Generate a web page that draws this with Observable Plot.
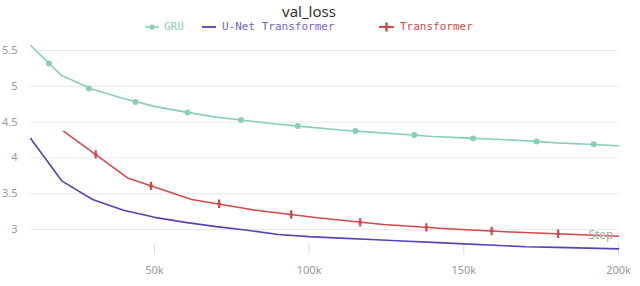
<!DOCTYPE html>
<html>
<head>
<meta charset="utf-8">
<script src="https://cdn.jsdelivr.net/npm/d3@7"></script>
<script src="https://cdn.jsdelivr.net/npm/@observablehq/plot@0.6"></script>
<style>
  html, body { margin: 0; padding: 0; background: #fff; }
  #wrap { position: relative; width: 640px; height: 286px; overflow: hidden; }
  #title { position: absolute; left: 209px; width: 200px; top: 2px; text-align: center;
           font-family: "Noto Sans", sans-serif; font-size: 15px; color: #333; line-height: 18px; }
  .leg { position: absolute; top: 20px; height: 14px; font-family: "DejaVu Sans Mono", monospace;
         font-size: 11px; line-height: 14px; white-space: pre; }
  .sw { position: absolute; top: 20px; }
  #chart { position: absolute; left: 0; top: 0; }
</style>
</head>
<body>
<div id="wrap">
  <div id="chart"></div>
  <div id="title">val_loss</div>
  <svg class="sw" style="left:145px" width="15" height="14"><line x1="0" y1="7" x2="14" y2="7" stroke="#87cfb6" stroke-width="1.6"/><circle cx="7" cy="7" r="2.6" fill="#87cfb6"/></svg>
  <div class="leg" style="left:164px;color:#87cfb6">GRU</div>
  <svg class="sw" style="left:202px" width="15" height="14"><line x1="0" y1="7" x2="14" y2="7" stroke="#5d3fb6" stroke-width="1.8"/></svg>
  <div class="leg" style="left:222px;color:#7a62c6">U-Net Transformer</div>
  <svg class="sw" style="left:379px" width="16" height="14"><line x1="0" y1="7" x2="15" y2="7" stroke="#d24a4a" stroke-width="2"/><line x1="7.5" y1="2.5" x2="7.5" y2="11.5" stroke="#d24a4a" stroke-width="2.4"/></svg>
  <div class="leg" style="left:400px;color:#d24a4a">Transformer</div>
</div>
<script>
// ---- data ----
const steps = [10000, 20000, 30000, 40000, 50000, 60000, 70000, 80000, 90000, 100000,
               110000, 120000, 130000, 140000, 150000, 160000, 170000, 180000, 190000, 200000];
const gruLoss = [5.57, 5.15, 4.96, 4.83, 4.72, 4.64, 4.57, 4.52, 4.47, 4.43,
                 4.39, 4.36, 4.33, 4.30, 4.28, 4.26, 4.24, 4.21, 4.19, 4.17];
const unetLoss = [4.27, 3.68, 3.42, 3.27, 3.17, 3.10, 3.04, 2.99, 2.93, 2.90,
                  2.88, 2.86, 2.84, 2.82, 2.80, 2.78, 2.76, 2.75, 2.74, 2.73];
const trSteps = [20700, 41300, 62000, 82700, 103400, 124000, 144700, 165400, 186000, 200000];
const trLoss = [4.37, 3.72, 3.42, 3.27, 3.16, 3.07, 3.01, 2.965, 2.93, 2.905];

const gruMarkSteps = [15900, 28800, 43900, 60700, 78000, 96300, 115000, 134000, 153000, 173500, 192000];
const gruMarkLoss = [5.32, 4.97, 4.78, 4.635, 4.53, 4.445, 4.375, 4.32, 4.27, 4.23, 4.19];
const trMarkSteps = [31000, 48900, 70900, 94200, 116500, 137900, 159000, 180500];
const trMarkLoss = [4.05, 3.61, 3.36, 3.21, 3.10, 3.03, 2.98, 2.94];

const xTicks = [50000, 100000, 150000, 200000];
const yTicks = [3, 3.5, 4, 4.5, 5, 5.5];
const xDomain = [9930, 200000];
const yDomain = [2.651, 5.64];

const colors = { gru: "#87cfb6", unet: "#5d3fb6", tr: "#d24a4a" };

const gru = steps.map((s, i) => ({ step: s, loss: gruLoss[i] }));
const unet = steps.map((s, i) => ({ step: s, loss: unetLoss[i] }));
const tr = trSteps.map((s, i) => ({ step: s, loss: trLoss[i] }));
const gruMarks = gruMarkSteps.map((s, i) => ({ step: s, loss: gruMarkLoss[i] }));
const trMarks = trMarkSteps.map((s, i) => ({ step: s, loss: trMarkLoss[i] }));

// small cross: tall vertical bar, short horizontal arm
const tickCross = {
  draw(ctx, size) {
    const r = Math.sqrt(size / Math.PI);
    ctx.moveTo(0, -r); ctx.lineTo(0, r);
    ctx.moveTo(-r * 0.45, 0); ctx.lineTo(r * 0.45, 0);
  }
};

const chart = Plot.plot({
  width: 640,
  height: 286,
  marginTop: 40,
  marginBottom: 32,
  marginLeft: 30,
  marginRight: 22,
  style: { color: "#999", fontFamily: "'Noto Sans', sans-serif", fontSize: "11px", background: "transparent" },
  x: { domain: xDomain },
  y: { domain: yDomain },
  marks: [
    Plot.gridY(yTicks, { stroke: "#e8e8e8", strokeOpacity: 1 }),
    Plot.ruleX(xTicks, { insetTop: 203, stroke: "#dcdcdc" }),
    Plot.axisY(yTicks, { tickSize: 0, tickPadding: 13, tickFormat: d => String(d), label: null, fill: "#999" }),
    Plot.axisX(xTicks, { tickSize: 0, tickPadding: 12, tickFormat: d => d / 1000 + "k", label: null, fill: "#999" }),
    Plot.line(gru, { x: "step", y: "loss", stroke: colors.gru, strokeWidth: 1.6 }),
    Plot.dot(gruMarks, { x: "step", y: "loss", fill: colors.gru, r: 3 }),
    Plot.line(unet, { x: "step", y: "loss", stroke: colors.unet, strokeWidth: 1.6 }),
    Plot.line(tr, { x: "step", y: "loss", stroke: colors.tr, strokeWidth: 1.6 }),
    Plot.dot(trMarks, { x: "step", y: "loss", stroke: colors.tr, fill: "none", strokeWidth: 2.2, symbol: tickCross, r: 4.2 }),
    Plot.text(["Step"], { text: d => d, frameAnchor: "bottom-right", dx: -5, dy: -16, textAnchor: "end", fill: "#aaa", fontSize: 12 })
  ]
});
document.getElementById("chart").appendChild(chart);
</script>
</body>
</html>
